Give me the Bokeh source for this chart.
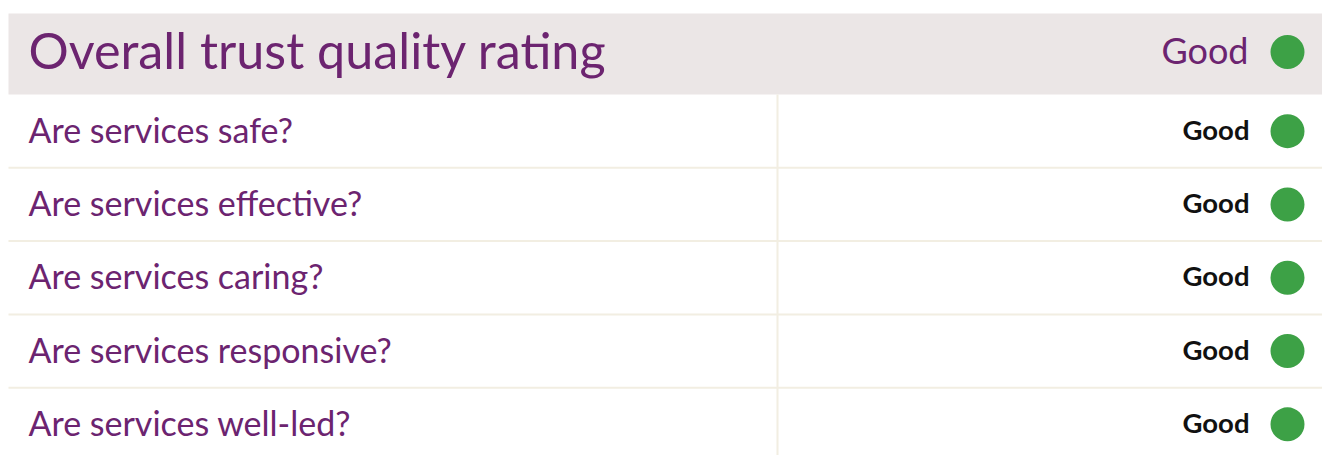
from bokeh.plotting import figure
from bokeh.models import ColumnDataSource, Range1d
from bokeh.core.properties import value
from bokeh.embed import file_html
from bokeh.resources import INLINE

# ---- data ----
overall_label = "Overall trust quality rating"
overall_rating = "Good"
questions = [
    "Are services safe?",
    "Are services effective?",
    "Are services caring?",
    "Are services responsive?",
    "Are services well-led?",
]
ratings = ["Good", "Good", "Good", "Good", "Good"]
rating_colors = {"Good": "#3da146", "Outstanding": "#1f78b4",
                 "Requires improvement": "#f0a30a", "Inadequate": "#c0392b"}

# ---- layout (pixel-like coordinates, y grows downward) ----
W, H = 1322, 455
BAND_LEFT = 8
HEAD_TOP, HEAD_BOT = 13, 94
ROW_H = 73.3
DIVIDER_X = 777
LABEL_X = 28
RATING_X = 1249
DOT_X = 1287

PURPLE = "#6c2470"
FONT = "Lato"

p = figure(width=W, height=H, output_backend="svg", toolbar_location=None,
           x_range=Range1d(0, W), y_range=Range1d(H, 0),
           min_border=0, outline_line_color=None)
p.axis.visible = False
p.grid.visible = False
p.background_fill_color = "white"
p.border_fill_color = "white"

# header band
p.quad(left=BAND_LEFT, right=W, top=HEAD_TOP, bottom=HEAD_BOT,
       fill_color="#ebe6e6", line_color=None)
head_y = (HEAD_TOP + HEAD_BOT) / 2
p.text(x=[LABEL_X], y=[head_y - 4.5], text=[overall_label], text_font=value(FONT),
       text_font_size="50.3px", text_color=PURPLE, text_baseline="middle",
       text_align="left")
p.text(x=[RATING_X - 1], y=[head_y - 4.5], text=[overall_rating], text_font=value(FONT),
       text_font_size="36px", text_color=PURPLE, text_baseline="middle",
       text_align="right")
p.scatter(x=[DOT_X], y=[head_y - 2], size=34, marker="circle",
          fill_color=rating_colors[overall_rating], line_color=None)

# rows
n = len(questions)
centers = [HEAD_BOT + ROW_H * (i + 0.5) for i in range(n)]
text_y = [c - 2 for c in centers]
src = ColumnDataSource(dict(
    q=questions, r=ratings, y=centers, ty=text_y,
    c=[rating_colors[r] for r in ratings],
))

# separators
seps = [HEAD_BOT + ROW_H * (i + 1) for i in range(n - 1)]
p.segment(x0=[BAND_LEFT] * len(seps), x1=[W] * len(seps), y0=seps, y1=seps,
          line_color="#f2eee2", line_width=2)
p.segment(x0=[DIVIDER_X], x1=[DIVIDER_X], y0=[HEAD_BOT], y1=[H],
          line_color="#f2eee2", line_width=2)

p.text(x=LABEL_X, y="ty", text="q", source=src, text_font=value(FONT),
       text_font_size="34px", text_color=PURPLE, text_baseline="middle",
       text_align="left")
p.text(x=RATING_X, y="ty", text="r", source=src, text_font=value(FONT),
       text_font_size="27.5px", text_font_style="bold", text_color="#111111",
       text_baseline="middle", text_align="right")
p.scatter(x=DOT_X, y="y", source=src, size=34, marker="circle",
          fill_color="c", line_color=None)

open("out.html", "w").write(file_html(p, INLINE))
